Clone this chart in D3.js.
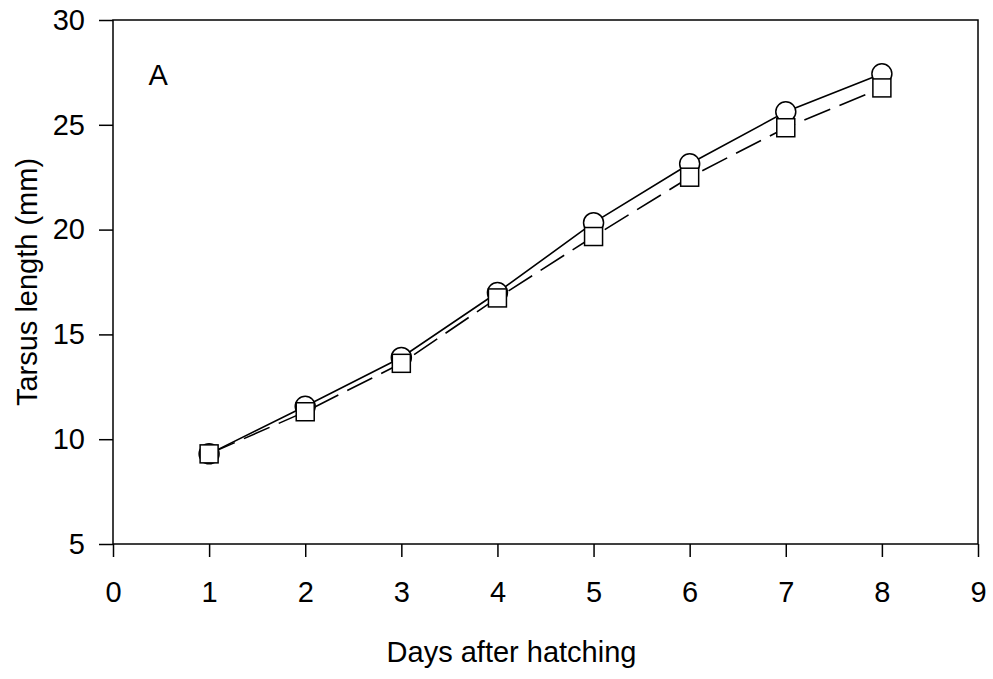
<!DOCTYPE html>
<html>
<head>
<meta charset="utf-8">
<script src="https://cdn.jsdelivr.net/npm/d3@7"></script>
<style>
  body { margin: 0; background: #fff; }
  text { font-family: "Liberation Sans", Arial, sans-serif; fill: #000; }
</style>
</head>
<body>
<div id="chart"></div>
<script>
// Data
const days = [1, 2, 3, 4, 5, 6, 7, 8];
const circleSeries = [9.3, 11.57, 13.9, 17.0, 20.33, 23.14, 25.62, 27.43];
const squareSeries = [9.3, 11.31, 13.62, 16.74, 19.67, 22.5, 24.86, 26.76];
const xTicks = [0, 1, 2, 3, 4, 5, 6, 7, 8, 9];
const yTicks = [5, 10, 15, 20, 25, 30];

const W = 993, H = 679;
const margin = { top: 20, right: 15, bottom: 135, left: 113 },
    width = W - margin.left - margin.right,
    height = H - margin.top - margin.bottom;

const svg = d3.select("#chart")
    .append("svg")
    .attr("width", W)
    .attr("height", H)
    .append("g")
    .attr("transform", `translate(${margin.left},${margin.top})`);

const x = d3.scaleLinear().domain([0, 9]).range([0, width]);
const y = d3.scaleLinear().domain([5, 30]).range([height, 0]);

// Frame
svg.append("rect")
    .attr("width", width)
    .attr("height", height)
    .attr("fill", "none")
    .attr("stroke", "#000")
    .attr("stroke-width", 1.5);

// Axes
const xAxis = svg.append("g")
    .attr("transform", `translate(0,${height})`)
    .call(d3.axisBottom(x).tickValues(xTicks).tickSize(13).tickPadding(24).tickFormat(d3.format("d")));

const yAxis = svg.append("g")
    .call(d3.axisLeft(y).tickValues(yTicks).tickSize(14).tickPadding(14).tickFormat(d3.format("d")));

[xAxis, yAxis].forEach(g => {
    g.select(".domain").remove();
    g.selectAll("line").attr("stroke", "#000").attr("stroke-width", 1.5);
    g.selectAll("text")
        .style("font-family", "'Liberation Sans', Arial, sans-serif")
        .style("font-size", "29px")
        .attr("fill", "#000");
});

// Axis labels
svg.append("text")
    .attr("x", width / 2 - 34)
    .attr("y", height + 118)
    .attr("text-anchor", "middle")
    .style("font-size", "29px")
    .text("Days after hatching");

svg.append("text")
    .attr("x", -height / 2)
    .attr("y", -76)
    .attr("transform", "rotate(-90)")
    .attr("text-anchor", "middle")
    .style("font-size", "29px")
    .text("Tarsus length (mm)");

// Panel label
svg.append("text")
    .attr("x", x(0.37))
    .attr("y", y(26.9))
    .style("font-size", "29px")
    .text("A");

const circleData = days.map((d, i) => ({ day: d, v: circleSeries[i] }));
const squareData = days.map((d, i) => ({ day: d, v: squareSeries[i] }));

const line = d3.line().x(d => x(d.day)).y(d => y(d.v));

svg.append("path")
    .datum(squareData)
    .attr("d", line)
    .attr("fill", "none")
    .attr("stroke", "#000")
    .attr("stroke-width", 1.6)
    .attr("stroke-dasharray", "28,10");

svg.append("path")
    .datum(circleData)
    .attr("d", line)
    .attr("fill", "none")
    .attr("stroke", "#000")
    .attr("stroke-width", 1.6);

// Circles first, squares drawn over them
svg.selectAll(".circ")
    .data(circleData)
    .enter()
    .append("circle")
    .attr("class", "circ")
    .attr("cx", d => x(d.day))
    .attr("cy", d => y(d.v))
    .attr("r", 10)
    .attr("fill", "#fff")
    .attr("stroke", "#000")
    .attr("stroke-width", 1.5);

svg.selectAll(".sq")
    .data(squareData)
    .enter()
    .append("rect")
    .attr("class", "sq")
    .attr("x", d => x(d.day) - 9)
    .attr("y", d => y(d.v) - 9)
    .attr("width", 18)
    .attr("height", 18)
    .attr("fill", "#fff")
    .attr("stroke", "#000")
    .attr("stroke-width", 1.5);
</script>
</body>
</html>
